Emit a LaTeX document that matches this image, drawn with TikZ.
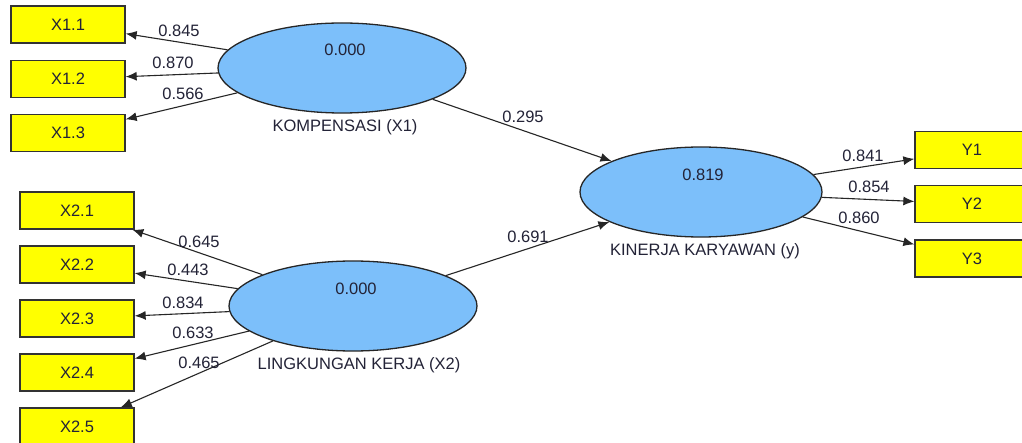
\documentclass[tikz,border=0pt]{standalone}
\usepackage{fontspec}
\setmainfont{Liberation Sans}
\usetikzlibrary{shapes.geometric,arrows.meta}
\definecolor{lvblue}{RGB}{124,191,250}
\definecolor{mvyellow}{RGB}{255,255,0}
\definecolor{txt}{RGB}{35,35,55}
\tikzset{
  lv/.style={ellipse,draw=black!85,line width=1.3pt,fill=lvblue,inner sep=0pt,minimum height=90pt},
  mv/.style={rectangle,draw=black!80,line width=1.3pt,fill=mvyellow,inner sep=0pt,minimum width=114pt,minimum height=37pt,font=\fontsize{16.5}{19}\selectfont,text=txt},
  lab/.style={font=\fontsize{16.5}{19}\selectfont,text=txt,inner sep=0pt},
  conn/.style={draw=black!85,line width=1.1pt,-{Latex[length=11pt,width=9pt]}}
}
\begin{document}
\begin{tikzpicture}[x=1pt,y=-1pt]
\useasboundingbox[fill=white] (0,0) rectangle (1022,443);
% latent variables
\node[lv,minimum width=248pt] (x1) at (342,68) {};
\node[lv,minimum width=248pt] (x2) at (353,306) {};
\node[lv,minimum width=242pt] (y) at (701,192) {};
\node[lab] (x1v) at (345,50) {0.000};
\node[lab] (x2v) at (356,289) {0.000};
\node[lab] (yv) at (703,175) {0.819};
\node[lab] (x1n) at (345,127) {KOMPENSASI (X1)};
\node[lab] (x2n) at (359,365) {LINGKUNGAN KERJA (X2)};
\node[lab] (yn) at (705,251) {KINERJA KARYAWAN (y)};
% indicators
\node[mv] (b11) at (68,24.5) {X1.1};
\node[mv] (b12) at (68,79) {X1.2};
\node[mv] (b13) at (68,133) {X1.3};
\node[mv] (b21) at (77,210.5) {X2.1};
\node[mv] (b22) at (77,264.5) {X2.2};
\node[mv] (b23) at (77,318.5) {X2.3};
\node[mv] (b24) at (77,372.5) {X2.4};
\node[mv] (b25) at (77,426.5) {X2.5};
\node[mv] (by1) at (972,150) {Y1};
\node[mv] (by2) at (972,204) {Y2};
\node[mv] (by3) at (972,258.5) {Y3};
% connectors
\draw[conn] (x1) -- (b11);
\draw[conn] (x1) -- (b12);
\draw[conn] (x1) -- (b13);
\draw[conn] (x2) -- (b21);
\draw[conn] (x2) -- (b22);
\draw[conn] (x2) -- (b23);
\draw[conn] (x2) -- (b24);
\draw[conn] (x2) -- (b25);
\draw[conn] (y) -- (by1);
\draw[conn] (y) -- (by2);
\draw[conn] (y) -- (by3);
\draw[conn] (x1) -- (y);
\draw[conn] (x2) -- (y);
% coefficient labels
\node[lab] (l11) at (179,31) {0.845};
\node[lab] (l12) at (173,63) {0.870};
\node[lab] (l13) at (183,94) {0.566};
\node[lab] (l21) at (199,242) {0.645};
\node[lab] (l22) at (188,270) {0.443};
\node[lab] (l23) at (183,303) {0.834};
\node[lab] (l24) at (193,333) {0.633};
\node[lab] (l25) at (199,363) {0.465};
\node[lab] (lp1) at (523,117) {0.295};
\node[lab] (lp2) at (528,237) {0.691};
\node[lab] (ly1) at (863,156) {0.841};
\node[lab] (ly2) at (869,187) {0.854};
\node[lab] (ly3) at (859,218) {0.860};
\end{tikzpicture}
\end{document}
